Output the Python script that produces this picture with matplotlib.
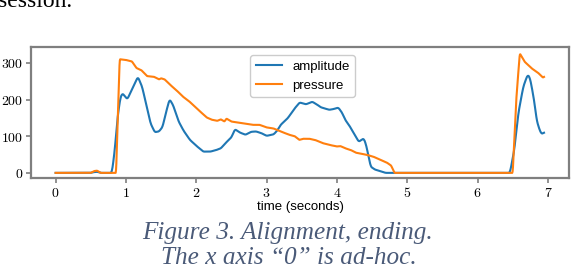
import matplotlib
matplotlib.use("Agg")
import matplotlib.pyplot as plt
import numpy as np

# Data
amp_t = [0.0, 0.50, 0.54, 0.59, 0.64, 0.80, 0.84, 0.88, 0.92, 0.95, 1.02, 1.08, 1.17, 1.23, 1.29, 1.35, 1.41,
         1.47, 1.52, 1.57, 1.62, 1.67, 1.75, 1.82, 1.91, 2.00, 2.10, 2.20, 2.28, 2.35, 2.42, 2.50, 2.55, 2.62,
         2.70, 2.78, 2.85, 2.93, 3.00, 3.10, 3.15, 3.20, 3.30, 3.40, 3.47, 3.56, 3.65, 3.72, 3.77, 3.89,
         3.95, 4.02, 4.07, 4.12, 4.18, 4.24, 4.31, 4.35, 4.38, 4.41, 4.43, 4.48, 4.54, 4.60, 4.69, 4.80, 5.5,
         6.40, 6.46, 6.52, 6.58, 6.65, 6.71, 6.74, 6.77, 6.81, 6.84, 6.88, 6.91, 6.945]
amp_v = [0, 0, 2, 3, 0, 0, 60, 150, 205, 217, 201, 225, 262, 235, 185, 135, 111,
         113, 125, 165, 201, 185, 140, 115, 90, 74, 58, 58, 62, 67, 82, 97, 119, 110,
         104, 112, 113, 108, 101, 105, 115, 131, 149, 176, 192, 187, 194, 186, 179, 172,
         174, 178, 165, 144, 128, 108, 85, 90, 94, 80, 63, 17, 9, 6, 0, 0, 0,
         0, 0, 60, 163, 235, 267, 262, 235, 190, 144, 118, 106, 110]

prs_t = [0.0, 0.50, 0.55, 0.59, 0.64, 0.86, 0.91, 1.00, 1.085, 1.15, 1.22, 1.30, 1.40, 1.47, 1.50, 1.55,
         1.63, 1.72, 1.81, 1.90, 2.00, 2.08, 2.15, 2.22, 2.30, 2.35, 2.40, 2.43, 2.50, 2.60, 2.70, 2.80,
         2.90, 3.00, 3.10, 3.20, 3.32, 3.40, 3.465, 3.52, 3.61, 3.70, 3.80, 3.90, 4.00, 4.05, 4.12,
         4.20, 4.27, 4.35, 4.43, 4.52, 4.60, 4.71, 4.77, 4.82, 5.5, 6.40, 6.50, 6.55, 6.60, 6.67,
         6.77, 6.86, 6.93, 6.945]
prs_v = [0, 0, 5, 6, 0, 0, 310, 308, 304, 286, 280, 264, 262, 255, 258, 255,
         240, 225, 208, 195, 177, 163, 151, 145, 142, 146, 140, 148, 140, 137, 134, 131,
         131, 124, 121, 113, 104, 100, 90, 93, 93, 89, 81, 76, 72, 73, 67,
         62, 55, 52, 49, 44, 37, 28, 20, 0, 0, 0, 0, 200, 326, 303,
         285, 273, 260, 262]

# interpolation onto a fine grid for drawing (display only)
t_grid = np.linspace(0, 6.945, 1400)
amp = np.interp(t_grid, amp_t, amp_v)
prs = np.interp(t_grid, prs_t, prs_v)

def smooth(y, k=7):
    ker = np.ones(k) / k
    yp = np.pad(y, (k // 2, k // 2), mode="edge")
    return np.convolve(yp, ker, mode="valid")

amp = smooth(amp)
prs = smooth(prs, 3)

xticks = [0, 1, 2, 3, 4, 5, 6, 7]
yticks = [0, 100, 200, 300]

plt.rcParams["mathtext.fontset"] = "cm"

fig = plt.figure(figsize=(5.72, 2.72), dpi=100)
ax = fig.add_axes([31 / 572, 1 - 178 / 272, (569 - 31) / 572, (178 - 47.5) / 272])

ax.plot(t_grid, amp, color="#1f77b4", lw=1.5, label="amplitude")
ax.plot(t_grid, prs, color="#ff7f0e", lw=1.5, label="pressure")

ax.set_xlim(-0.35, 7.3)
ax.set_ylim(-14, 342)
ax.set_xticks(xticks)
ax.set_xticklabels([f"${v}$" for v in xticks], fontsize=10)
ax.set_yticks(yticks)
ax.set_yticklabels([f"${v}$" for v in yticks], fontsize=10)
for s in ax.spines.values():
    s.set_color("#7f7f7f")
    s.set_linewidth(1.6)
ax.tick_params(color="#7f7f7f", width=1.2, length=3.5, pad=2)

ax.set_xlabel("time (seconds)", family="Liberation Sans", fontsize=9.5, labelpad=1)

leg = ax.legend(loc="upper center", bbox_to_anchor=(0.505, 0.99),
                prop={"family": "Liberation Sans", "size": 9.5},
                handlelength=2.0, borderpad=0.4, labelspacing=0.5, framealpha=1.0)
leg.get_frame().set_edgecolor("#cccccc")

cap = "#4a5a78"
fig.text(0.503, 1 - 233 / 272, "Figure 3. Alignment, ending.", ha="center", va="center",
         family="Liberation Serif", style="italic", fontsize=18.2, color=cap)
fig.text(0.505, 1 - 258 / 272, "The x axis \u201c0\u201d is ad-hoc.", ha="center", va="center",
         family="Liberation Serif", style="italic", fontsize=18.2, color=cap)
fig.text(-0.003, 1 - 7 / 272, "session.", ha="left", va="baseline",
         family="Liberation Serif", fontsize=17, color="black")

fig.savefig("out.png", dpi=100)
